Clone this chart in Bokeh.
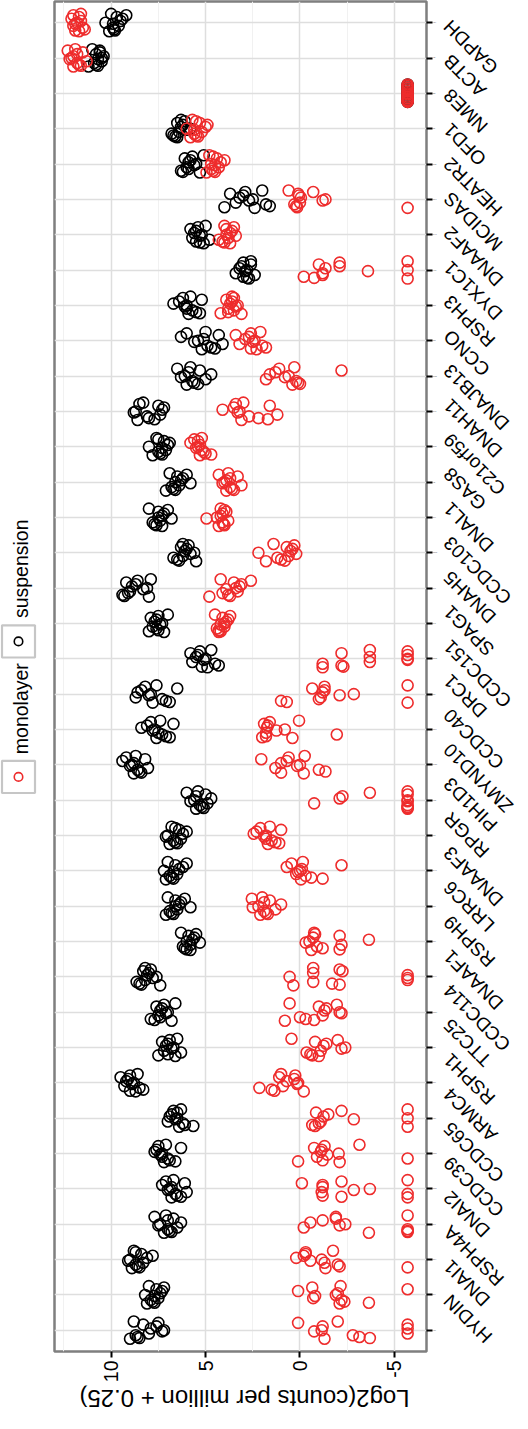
import math
from bokeh.plotting import figure
from bokeh.models import Range1d, FactorRange, FixedTicker, ColumnDataSource
from bokeh.layouts import row, column
from bokeh.embed import file_html
from bokeh.resources import INLINE
from bokeh.core.properties import value

# ---------------- data (bottom to top on the gene axis) ----------------
genes = ["HYDIN", "DNAI1", "RSPH4A", "DNAI2", "CCDC39", "CCDC65", "ARMC4", "RSPH1",
         "TTC25", "CCDC114", "DNAAF1", "RSPH9", "LRRC6", "DNAAF3", "RPGR", "PIH1D3",
         "ZMYND10", "CCDC40", "DRC1", "CCDC151", "SPAG1", "DNAH5", "CCDC103", "DNAL1",
         "GAS8", "C21orf59", "DNAH11", "DNAJB13", "CCNO", "RSPH3", "DYX1C1", "DNAAF2",
         "MCIDAS", "HEATR2", "OFD1", "NME8", "ACTB", "GAPDH"]

conditions = ["monolayer", "suspension"]

# log2(cpm + 0.25), one list per gene, same order as genes
suspension = [
    [9.0, 8.8, 8.7, 8.6, 8.5, 8.3, 8.0, 7.9, 7.6, 7.5, 7.3, 7.2],        # HYDIN
    [8.2, 8.1, 8.0, 7.9, 7.8, 7.7, 7.6, 7.5, 7.4, 7.3, 7.2, 7.7],        # DNAI1
    [9.1, 9.0, 8.9, 8.8, 8.7, 8.6, 8.5, 8.4, 8.3, 8.1, 7.8, 8.7],        # RSPH4A
    [7.7, 7.5, 7.4, 7.2, 7.1, 7.0, 6.9, 6.8, 6.7, 6.5, 6.3, 7.0],        # DNAI2
    [7.3, 7.1, 7.0, 6.9, 6.8, 6.7, 6.6, 6.5, 6.3, 6.1, 6.0, 6.8],        # CCDC39
    [7.7, 7.6, 7.5, 7.4, 7.3, 7.2, 7.1, 7.0, 6.9, 6.6, 6.3, 7.3],        # CCDC65
    [7.0, 6.9, 6.8, 6.7, 6.6, 6.5, 6.4, 6.3, 6.2, 6.1, 5.65, 6.5],       # ARMC4
    [9.5, 9.3, 9.2, 9.1, 9.0, 8.9, 8.8, 8.7, 8.6, 8.5, 8.3, 9.0],        # RSPH1
    [7.5, 7.3, 7.2, 7.1, 7.0, 6.9, 6.8, 6.7, 6.6, 6.5, 6.3, 7.0],        # TTC25
    [7.9, 7.7, 7.6, 7.5, 7.4, 7.3, 7.2, 7.1, 7.0, 6.8, 6.6, 7.4],        # CCDC114
    [8.65, 8.5, 8.4, 8.3, 8.2, 8.1, 8.0, 7.9, 7.8, 7.6, 7.4, 8.2],       # DNAAF1
    [6.3, 6.2, 6.1, 6.0, 5.9, 5.8, 5.7, 5.6, 5.5, 5.3, 6.0, 5.8],        # RSPH9
    [7.1, 7.0, 6.9, 6.8, 6.7, 6.6, 6.5, 6.4, 6.3, 6.1, 5.8, 6.6],        # LRRC6
    [7.2, 7.1, 7.0, 6.9, 6.8, 6.7, 6.6, 6.5, 6.4, 6.2, 6.0, 6.7],        # DNAAF3
    [7.1, 7.0, 6.9, 6.8, 6.7, 6.6, 6.5, 6.4, 6.3, 6.2, 6.0, 6.6],        # RPGR
    [6.0, 5.8, 5.6, 5.5, 5.4, 5.3, 5.2, 5.1, 5.0, 4.9, 4.7, 5.5],        # PIH1D3
    [9.4, 9.2, 9.0, 8.9, 8.8, 8.7, 8.6, 8.5, 8.4, 8.2, 8.05, 8.8],       # ZMYND10
    [8.4, 8.1, 7.9, 7.8, 7.7, 7.6, 7.4, 7.3, 7.1, 6.9, 6.7, 7.5],        # CCDC40
    [8.7, 8.6, 8.4, 8.2, 8.0, 7.9, 7.8, 7.6, 7.3, 7.1, 6.9, 6.5],        # DRC1
    [5.8, 5.7, 5.5, 5.4, 5.3, 5.1, 5.0, 4.9, 4.7, 4.5, 4.3, 5.2],        # CCDC151
    [8.0, 7.9, 7.8, 7.7, 7.6, 7.5, 7.4, 7.3, 7.2, 7.0, 7.6, 7.5],        # SPAG1
    [9.4, 9.3, 9.2, 9.0, 8.9, 8.7, 8.6, 8.3, 8.1, 8.0, 7.9, 9.1],        # DNAH5
    [6.7, 6.5, 6.4, 6.3, 6.2, 6.1, 6.0, 5.9, 5.8, 5.6, 5.5, 6.2],        # CCDC103
    [8.0, 7.8, 7.7, 7.6, 7.5, 7.4, 7.3, 7.2, 7.0, 6.8, 7.5, 7.3],        # DNAL1
    [7.1, 6.9, 6.8, 6.7, 6.6, 6.5, 6.4, 6.3, 6.2, 6.0, 5.8, 6.6],        # GAS8
    [8.0, 7.8, 7.6, 7.5, 7.4, 7.3, 7.2, 7.1, 7.0, 6.9, 7.5, 7.3],        # C21orf59
    [8.8, 8.7, 8.6, 8.3, 8.1, 8.0, 7.7, 7.5, 7.4, 7.3, 7.2, 8.5],        # DNAH11
    [6.5, 6.3, 6.1, 6.0, 5.8, 5.7, 5.6, 5.4, 5.3, 5.0, 4.7, 5.9],        # DNAJB13
    [6.3, 6.0, 5.6, 5.4, 5.2, 5.0, 4.9, 4.7, 4.5, 4.3, 4.1, 5.1],        # CCNO
    [6.7, 6.4, 6.2, 6.1, 6.0, 5.9, 5.8, 5.7, 5.5, 5.3, 5.2, 6.0],        # RSPH3
    [3.4, 3.2, 3.1, 3.0, 2.9, 2.8, 2.7, 2.6, 2.4, 3.0, 2.8, 2.6],        # DYX1C1
    [5.8, 5.7, 5.6, 5.5, 5.4, 5.3, 5.2, 5.1, 5.0, 4.8, 5.5, 5.3],        # DNAAF2
    [4.0, 3.7, 3.4, 3.2, 3.0, 2.9, 2.7, 2.5, 2.4, 2.0, 1.8, 1.6],        # MCIDAS
    [6.3, 6.2, 6.1, 6.0, 5.9, 5.8, 5.7, 5.6, 5.5, 5.3, 5.1, 5.9],        # HEATR2
    [6.8, 6.7, 6.6, 6.5, 6.4, 6.3, 6.2, 6.1, 6.0, 5.8, 6.5, 6.3],        # OFD1
    [-5.7, -5.7, -5.7, -5.7, -5.7, -5.7, -5.7, -5.7, -5.7, -5.7, -5.7, -5.7],  # NME8
    [11.2, 11.0, 10.9, 10.8, 10.7, 10.6, 10.5, 10.4, 10.8, 10.6, 10.7, 10.5],  # ACTB
    [10.3, 10.1, 10.0, 9.9, 9.85, 9.8, 9.7, 9.6, 9.5, 9.4, 9.2, 9.9],    # GAPDH
]

monolayer = [
    [0.1, -0.75, -1.15, -1.3, -2.0, -2.8, -3.15, -3.7, -5.7, -5.7, -5.7, -1.2],     # HYDIN
    [0.1, -0.65, -0.8, -1.9, -2.1, -2.15, -2.2, -2.35, -3.65, -5.7, -0.7, -2.0],   # DNAI1
    [0.2, -0.2, -0.3, -0.55, -1.15, -1.35, -1.75, -2.0, -2.1, -5.7, -0.3, -1.3],   # RSPH4A
    [-0.2, -0.55, -1.2, -1.9, -2.1, -2.4, -3.65, -5.7, -5.7, -5.7, -5.7, -1.9],    # DNAI2
    [-0.1, -1.15, -1.2, -1.2, -2.2, -2.85, -3.7, -5.7, -5.7, -5.7, -1.2, -2.2],    # CCDC39
    [0.1, -0.75, -0.9, -1.1, -1.15, -1.3, -1.45, -2.05, -2.1, -3.15, -5.7, -1.2],  # CCDC65
    [-0.65, -0.8, -0.85, -1.1, -1.25, -1.5, -2.2, -2.85, -5.7, -5.7, -5.7, -1.0],  # ARMC4
    [2.15, 1.5, 1.35, 1.1, 0.9, 0.7, 0.3, 0.25, 0.15, 0.1, -0.2, 1.0],             # RSPH1
    [0.45, -0.35, -0.55, -0.65, -0.8, -1.1, -1.25, -1.4, -2.0, -2.2, -2.4, -1.0],  # TTC25
    [0.8, 0.55, 0.0, -0.3, -0.75, -1.0, -1.2, -1.3, -1.4, -1.95, -2.2, -2.1],      # CCDC114
    [0.55, 0.35, -0.7, -0.7, -1.7, -2.1, -2.25, -5.7, -5.7, -0.7, -2.1, -5.7],     # DNAAF1
    [-0.3, -0.5, -0.6, -0.75, -0.9, -1.2, -2.1, -2.1, -2.2, -3.65, -0.7, -0.8],    # RSPH9
    [2.55, 2.5, 2.2, 2.1, 2.0, 1.9, 1.8, 1.7, 1.6, 1.3, 1.0, 1.9],                 # LRRC6
    [0.7, 0.45, 0.1, 0.0, -0.05, -0.15, -0.3, -0.6, -1.2, -2.2, 0.2, -0.1],        # DNAAF3
    [2.45, 2.3, 2.1, 1.9, 1.8, 1.7, 1.6, 1.5, 1.3, 1.1, 1.0, 1.8],                 # RPGR
    [-0.75, -2.1, -2.25, -3.7, -5.7, -5.7, -5.7, -5.7, -5.7, -5.7, -5.7, -5.7],    # PIH1D3
    [2.05, 1.3, 1.0, 0.7, 0.6, 0.15, 0.0, -0.2, -0.25, -1.0, -1.35, 1.0],          # ZMYND10
    [2.0, 1.9, 1.8, 1.75, 1.7, 1.6, 1.25, 0.8, 0.4, 0.05, -1.95, 1.8],             # CCDC40
    [1.0, 0.7, -0.65, -1.1, -1.2, -1.3, -1.3, -2.1, -2.85, -5.7, -5.7, -1.0],      # DRC1
    [-1.2, -2.2, -2.3, -2.2, -3.7, -3.7, -5.7, -5.7, -5.7, -5.7, -1.2, -3.7],      # CCDC151
    [4.5, 4.4, 4.3, 4.2, 4.1, 4.0, 3.9, 3.8, 3.7, 4.2, 4.0, 4.3],                  # SPAG1
    [4.8, 4.2, 4.1, 3.8, 3.7, 3.5, 3.3, 3.2, 3.1, 2.6, 3.9, 3.4],                  # DNAH5
    [2.2, 1.8, 1.4, 1.2, 1.0, 0.8, 0.7, 0.6, 0.5, 0.4, 0.3, 0.2],                  # CCDC103
    [4.95, 4.4, 4.3, 4.2, 4.1, 4.05, 4.0, 3.9, 3.8, 4.2, 4.1, 4.0],                # DNAL1
    [4.3, 4.1, 4.0, 3.9, 3.8, 3.7, 3.6, 3.5, 3.3, 3.1, 3.9, 3.7],                  # GAS8
    [5.8, 5.6, 5.5, 5.4, 5.3, 5.2, 5.1, 5.0, 4.7, 5.4, 5.2, 5.3],                  # C21orf59
    [4.1, 3.5, 3.4, 3.3, 3.2, 3.1, 3.0, 2.7, 2.2, 1.7, 1.6, 1.2],                  # DNAH11
    [1.8, 1.6, 1.3, 1.1, 0.8, 0.6, 0.4, 0.3, 0.2, 0.1, 0.0, -2.2],                 # DNAJB13
    [3.4, 3.2, 2.9, 2.7, 2.6, 2.5, 2.4, 2.3, 2.1, 2.0, 1.8, 2.6],                  # CCNO
    [4.2, 3.9, 3.8, 3.7, 3.6, 3.5, 3.4, 3.3, 3.1, 3.6, 3.5, 3.8],                  # RSPH3
    [-0.2, -0.75, -1.0, -1.2, -1.35, -2.1, -2.1, -3.6, -5.7, -5.7, -5.7, -1.2],    # DYX1C1
    [4.3, 4.1, 4.0, 3.9, 3.8, 3.7, 3.6, 3.5, 3.4, 3.9, 3.7, 4.0],                  # DNAAF2
    [0.6, 0.3, 0.2, 0.15, 0.1, 0.0, -0.05, 0.05, -0.7, -1.2, -1.35, -5.7],         # MCIDAS
    [4.95, 4.8, 4.7, 4.6, 4.5, 4.4, 4.3, 4.2, 4.0, 4.6, 4.5, 4.7],                 # HEATR2
    [6.0, 5.8, 5.7, 5.6, 5.5, 5.4, 5.3, 5.2, 5.0, 4.9, 5.5, 5.6],                  # OFD1
    [-5.7, -5.7, -5.7, -5.7, -5.7, -5.7, -5.7, -5.7, -5.7, -5.7, -5.7, -5.7],      # NME8
    [12.3, 12.2, 12.1, 12.0, 11.9, 11.8, 11.7, 11.6, 11.5, 11.3, 12.0, 11.8],      # ACTB
    [12.1, 12.0, 11.9, 11.8, 11.7, 11.6, 11.5, 11.4, 11.9, 11.7, 12.0, 11.6],      # GAPDH
]

value_ticks = [10, 5, 0, -5]
value_tick_labels = ["10", "5", "0", "-5"]
minor_grid_values = [12.5, 7.5, 2.5, -2.5]
axis_title = "Log2(counts per million + 0.25)"

# fixed vertical jitter pattern (category units) used to spread the dots
jitter_pattern = [0.21, -0.14, 0.05, -0.24, 0.16, -0.03, -0.19, 0.11, 0.25, -0.09, 0.0, -0.22]

# ---------------- styles / layout ----------------
FONT = "Liberation Sans"
RED = "#EE2C2C"
BLACK = "#000000"
BORDER_TOP = 1
FRAME_H = 1350
BORDER_BOTTOM = 34
ROW_H = BORDER_TOP + FRAME_H + BORDER_BOTTOM   # 1385
BORDER_L, BORDER_R = 6, 6
LEG_W, MAIN_W, LAB_W = 48, 392, 76
PAD = 0.1                                      # category padding at both ends
X_RANGE = (13.0, -6.7)
n = len(genes)
px_per_cat = FRAME_H / (n + 2 * PAD)
side_y_range = (-PAD - BORDER_BOTTOM / px_per_cat, n + PAD + BORDER_TOP / px_per_cat)

def from_top(px):
    """pixel distance below the top of the row -> side panel y coordinate"""
    return side_y_range[1] - px / px_per_cat

def build_source(series, cidx):
    xs, ys = [], []
    for g, vals in enumerate(series):
        for k, v in enumerate(vals):
            xs.append(v)
            ys.append(g + 0.5 + jitter_pattern[(k * 5 + g * 7 + cidx * 3) % len(jitter_pattern)])
    return ColumnDataSource(dict(x=xs, y=ys))

def side_panel(width):
    f = figure(width=width, height=ROW_H,
               x_range=Range1d(0, width), y_range=Range1d(*side_y_range),
               x_axis_location=None, y_axis_location=None,
               output_backend="svg", toolbar_location=None, min_border=0)
    f.grid.visible = False
    f.outline_line_color = None
    f.background_fill_color = "white"
    f.border_fill_color = "white"
    return f

# ---------------- main panel ----------------
p = figure(width=MAIN_W, height=ROW_H,
           x_range=Range1d(*X_RANGE),
           y_range=FactorRange(factors=genes, range_padding=PAD, range_padding_units="absolute"),
           y_axis_location="right",
           output_backend="svg", toolbar_location=None,
           min_border_left=BORDER_L, min_border_right=BORDER_R,
           min_border_top=BORDER_TOP, min_border_bottom=BORDER_BOTTOM)

p.background_fill_color = "white"
p.border_fill_color = "white"
p.outline_line_color = "#7F7F7F"
p.outline_line_width = 2.5

p.xgrid.ticker = FixedTicker(ticks=value_ticks, minor_ticks=minor_grid_values)
p.xgrid.grid_line_color = "#DEDEDE"
p.xgrid.grid_line_width = 1.5
p.xgrid.minor_grid_line_color = "#F1F1F1"
p.xgrid.minor_grid_line_width = 1
p.ygrid.grid_line_color = "#DEDEDE"
p.ygrid.grid_line_width = 1.5

p.xaxis.ticker = FixedTicker(ticks=value_ticks)
p.xaxis.major_label_overrides = {t: s for t, s in zip(value_ticks, value_tick_labels)}
p.xaxis.major_label_orientation = math.pi / 2
p.xaxis.axis_line_color = None
p.xaxis.major_tick_line_color = "black"
p.xaxis.major_tick_line_width = 2
p.xaxis.major_tick_out = 6
p.xaxis.major_tick_in = 0
p.xaxis.minor_tick_line_color = None
p.xaxis.major_label_text_font = FONT
p.xaxis.major_label_text_font_size = "19.5px"
p.xaxis.major_label_text_color = "black"
p.xaxis.major_label_standoff = 3

p.yaxis.axis_line_color = None
p.yaxis.major_tick_line_color = "black"
p.yaxis.major_tick_line_width = 2
p.yaxis.major_tick_out = 6
p.yaxis.major_tick_in = 0
p.yaxis.major_label_overrides = {g: "" for g in genes}
p.yaxis.major_label_text_font_size = "1px"
p.yaxis.major_label_standoff = 0

src_s = build_source(suspension, 1)
src_m = build_source(monolayer, 0)
p.scatter("x", "y", source=src_s, marker="circle", size=11, fill_color=None,
          line_color=BLACK, line_width=1.6)
p.scatter("x", "y", source=src_m, marker="circle", size=11, fill_color=None,
          line_color=RED, line_width=1.6)

# ---------------- gene label panel (right), same vertical scale ----------------
lab = side_panel(LAB_W)
lab.text(x=[6.5] * n, y=[i + 0.5 for i in range(n)], text=genes,
         angle=3 * math.pi / 4, text_align="right", text_baseline="middle",
         text_font=value(FONT), text_font_size="19px", text_color="black")

# ---------------- legend panel (left) ----------------
leg = side_panel(LEG_W)
key_y = [from_top(795.5), from_top(656.5)]      # monolayer, suspension
text_y = [from_top(725.5), from_top(582)]
leg.rect(x=[18, 18], y=key_y, width=33, height=33 / px_per_cat, fill_color="white",
         line_color="#C6C6C6", line_width=2.2)
leg.scatter(x=[18, 18], y=key_y, size=8.5, fill_color=None,
            line_color=[RED, BLACK], line_width=1.6)
leg.text(x=[20.5, 20.5], y=text_y, text=conditions, angle=math.pi / 2,
         text_align="center", text_baseline="middle",
         text_font=value(FONT), text_font_size="19.5px", text_color="black")

# ---------------- axis title panel (bottom, upside down) ----------------
TITLE_H = 28
TOTAL_W = LEG_W + MAIN_W + LAB_W
frame_left = LEG_W + BORDER_L
frame_right = LEG_W + MAIN_W - BORDER_R
ttl = figure(width=TOTAL_W, height=TITLE_H,
             x_range=Range1d(0, TOTAL_W), y_range=Range1d(0, TITLE_H),
             x_axis_location=None, y_axis_location=None,
             output_backend="svg", toolbar_location=None, min_border=0)
ttl.grid.visible = False
ttl.outline_line_color = None
ttl.background_fill_color = "white"
ttl.border_fill_color = "white"
ttl.text(x=[(frame_left + frame_right) / 2], y=[TITLE_H / 2 + 1], text=[axis_title],
         angle=math.pi, text_align="center", text_baseline="middle",
         text_font=value(FONT), text_font_size="24px", text_color="black")

layout = column(row(leg, p, lab), ttl)
open("out.html", "w").write(file_html(layout, INLINE))
